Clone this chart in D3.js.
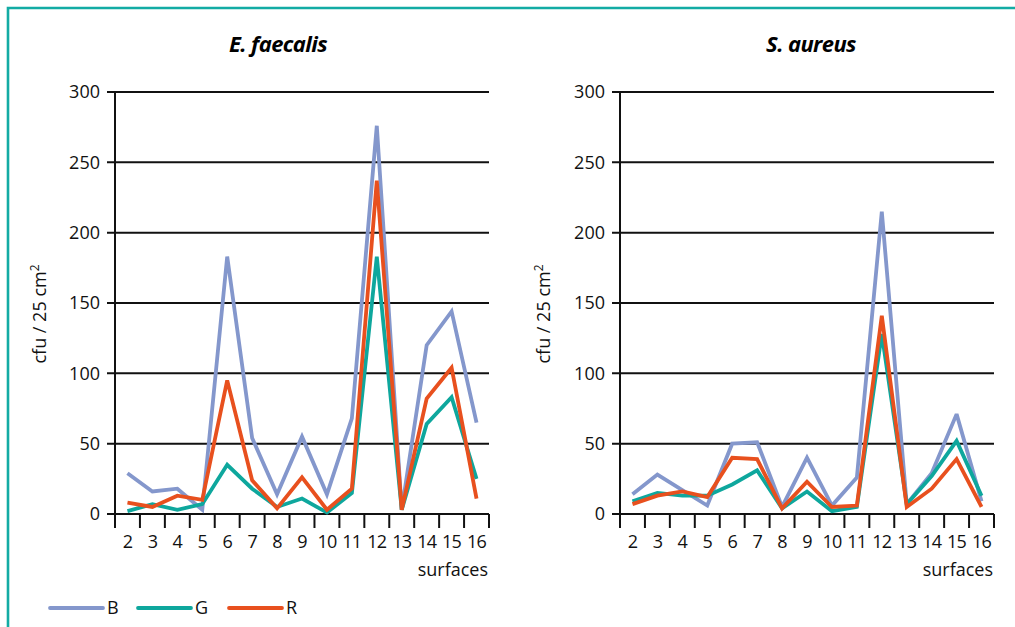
<!DOCTYPE html>
<html>
<head>
<meta charset="utf-8">
<script src="https://cdn.jsdelivr.net/npm/d3@7"></script>
<style>
  html, body { margin: 0; padding: 0; background: #fff; }
  svg { display: block; font-family: "Open Sans", "Noto Sans", sans-serif; }
</style>
</head>
<body>
<svg id="chart" width="1015" height="627"></svg>
<script>
// Surfaces sampled (x categories)
const surfaces = ["2","3","4","5","6","7","8","9","10","11","12","13","14","15","16"];
const yTicks = [0, 50, 100, 150, 200, 250, 300];

// E. faecalis counts (cfu / 25 cm²)
const faecalisB = [29, 16, 18, 3, 183, 54, 14, 55, 14, 68, 276, 3, 120, 144, 65];
const faecalisG = [2, 7, 3, 7, 35, 18, 5, 11, 1, 15, 183, 3, 64, 83, 25];
const faecalisR = [8, 5, 13, 10, 95, 24, 4, 26, 3, 18, 237, 3, 82, 104, 11];

// S. aureus counts (cfu / 25 cm²)
const aureusB = [14, 28, 17, 6, 50, 51, 5, 40, 6, 26, 215, 7, 29, 71, 9];
const aureusG = [9, 15, 13, 13, 21, 31, 4, 16, 2, 5, 128, 7, 27, 52, 13];
const aureusR = [7, 13, 16, 12, 40, 39, 4, 23, 5, 6, 141, 5, 18, 39, 5];

const seriesNames = ["B", "G", "R"];
const colors = { B: "#8497cc", G: "#0ea79d", R: "#e8501e" };

const svg = d3.select("#chart");

// Teal frame around the figure
svg.append("path")
  .attr("d", "M8,627 L8,8 L1015,8")
  .attr("fill", "none")
  .attr("stroke", "#13aba4")
  .attr("stroke-width", 2.6);

const panels = [
  { title: "E. faecalis", titleX: 278, left: 115, ylabX: 46,
    data: { B: faecalisB, G: faecalisG, R: faecalisR } },
  { title: "S. aureus", titleX: 811, left: 620, ylabX: 550,
    data: { B: aureusB, G: aureusG, R: aureusR } }
];

const plotW = 374, plotTop = 92, plotBottom = 514;
const fs = 18;

panels.forEach(p => {
  const g = svg.append("g");
  const x = d3.scaleBand().domain(surfaces).range([p.left, p.left + plotW]).padding(0);
  const y = d3.scaleLinear().domain([0, 300]).range([plotBottom, plotTop]);

  // Title
  g.append("text")
    .attr("x", p.titleX).attr("y", 52)
    .attr("text-anchor", "middle")
    .attr("font-size", 22).attr("font-weight", "bold").attr("font-style", "italic")
    .attr("letter-spacing", -0.6)
    .text(p.title);

  // Horizontal gridlines (also serve as y ticks)
  g.selectAll(".grid").data(yTicks).join("line")
    .attr("x1", p.left - 8).attr("x2", p.left + plotW)
    .attr("y1", d => y(d)).attr("y2", d => y(d))
    .attr("stroke", "#111").attr("stroke-width", 2);

  // Y tick labels
  g.selectAll(".ylab").data(yTicks).join("text")
    .attr("x", p.left - 15).attr("y", d => y(d))
    .attr("dy", "0.35em")
    .attr("text-anchor", "end")
    .attr("font-size", fs)
    .attr("fill", "#111")
    .text(d => d);

  // Y axis line, extending down past the baseline
  g.append("line")
    .attr("x1", p.left).attr("x2", p.left)
    .attr("y1", plotTop - 1).attr("y2", plotBottom + 14)
    .attr("stroke", "#111").attr("stroke-width", 2);

  // X boundary ticks between categories
  const edges = surfaces.map(s => x(s) + x.bandwidth());
  g.selectAll(".xtick").data(edges).join("line")
    .attr("x1", d => d).attr("x2", d => d)
    .attr("y1", plotBottom).attr("y2", plotBottom + 14)
    .attr("stroke", "#111").attr("stroke-width", 2);

  // X category labels
  g.selectAll(".xlab").data(surfaces).join("text")
    .attr("x", d => x(d) + x.bandwidth() / 2)
    .attr("y", plotBottom + 34)
    .attr("text-anchor", "middle")
    .attr("font-size", fs)
    .attr("letter-spacing", -0.8)
    .attr("fill", "#111")
    .text(d => d);

  // X axis title
  g.append("text")
    .attr("x", p.left + plotW - 1).attr("y", plotBottom + 62)
    .attr("text-anchor", "end")
    .attr("font-size", fs)
    .attr("fill", "#111")
    .text("surfaces");

  // Y axis title
  const yl = g.append("text")
    .attr("transform", `translate(${p.ylabX},${314}) rotate(-90)`)
    .attr("text-anchor", "middle")
    .attr("font-size", fs)
    .attr("fill", "#111");
  yl.append("tspan").text("cfu / 25 cm");
  yl.append("tspan").attr("font-size", 12).attr("dy", -7).text("2");

  // Series lines
  const line = d3.line()
    .x((d, i) => x(surfaces[i]) + x.bandwidth() / 2)
    .y(d => y(d))
    .curve(d3.curveLinear);

  seriesNames.forEach(name => {
    g.append("path")
      .datum(p.data[name])
      .attr("d", line)
      .attr("fill", "none")
      .attr("stroke", colors[name])
      .attr("stroke-width", 3.8)
      .attr("stroke-linejoin", "miter")
      .attr("stroke-miterlimit", 3);
  });
});

// Legend
const legendX = [50, 138, 229];
const lg = svg.append("g");
seriesNames.forEach((name, i) => {
  lg.append("line")
    .attr("x1", legendX[i]).attr("x2", legendX[i] + 53)
    .attr("y1", 608).attr("y2", 608)
    .attr("stroke", colors[name]).attr("stroke-width", 3.8)
    .attr("stroke-linecap", "round");
  lg.append("text")
    .attr("x", legendX[i] + 57).attr("y", 608)
    .attr("dy", "0.35em")
    .attr("font-size", fs)
    .attr("fill", "#111")
    .text(name);
});
</script>
</body>
</html>
